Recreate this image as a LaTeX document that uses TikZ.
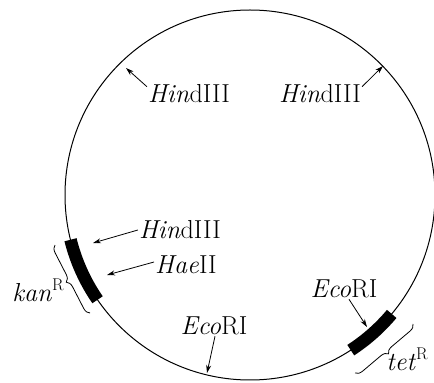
\documentclass[tikz,border=0pt]{standalone}
\usepackage{tikz}
\usetikzlibrary{arrows.meta,decorations.pathreplacing}

\newcommand{\resup}{\raisebox{0.42em}{\fontsize{17}{20}\selectfont R}}

\begin{document}
\begin{tikzpicture}[x=1pt, y=1pt,
    site/.style={inner sep=1pt, font=\fontsize{26}{30}\selectfont},
    ptr/.style={-{Stealth[length=8pt, width=5pt]}, line width=0.8pt},
    gene/.style={line width=12.5pt},
    brc/.style={decorate, decoration={brace, amplitude=7pt}, line width=0.8pt}
  ]
    \useasboundingbox (0,0) rectangle (434,383);
    \coordinate (c) at (250,188);

    % plasmid ring and resistance genes
    \draw[line width=1pt] (c) circle (185);
    \draw[gene] ([shift={(c)}]194:185) arc (194:214.5:185);
    \draw[gene] ([shift={(c)}]-57:185) arc (-57:-40:185);

    % braces
    \draw[brc] (90,70) -- (55,138);
    \draw[brc] (413,59) -- (355,10);
    \node[site] (kan) at (38,93) {\textit{kan}\resup};
    \node[site] (tet) at (407,24) {\textit{tet}\resup};

    % restriction sites
    \node[site] (hindA) at (189,289) {\textit{Hin}dIII};
    \node[site] (hindB) at (320,289) {\textit{Hin}dIII};
    \node[site] (hindC) at (180,153) {\textit{Hin}dIII};
    \node[site] (hae) at (186,118) {\textit{Hae}II};
    \node[site] (ecoA) at (214,57) {\textit{Eco}RI};
    \node[site] (ecoB) at (344,94) {\textit{Eco}RI};

    \coordinate (pA) at (126,315);
    \coordinate (pB) at (383,317);
    \coordinate (pC) at (93,140);
    \coordinate (pD) at (107,108);
    \coordinate (pE) at (207,10);
    \coordinate (pF) at (367,56);

    \draw[ptr] ([yshift=-3pt]hindA.north west) -- (pA);
    \draw[ptr] ([yshift=-3pt]hindB.north east) -- (pB);
    \draw[ptr] (hindC.west) -- (pC);
    \draw[ptr] ([yshift=3pt]hae.west) -- (pD);
    \draw[ptr] ([xshift=1pt]ecoA.south) -- (pE);
    \draw[ptr] ([xshift=5pt]ecoB.south) -- (pF);
\end{tikzpicture}
\end{document}
